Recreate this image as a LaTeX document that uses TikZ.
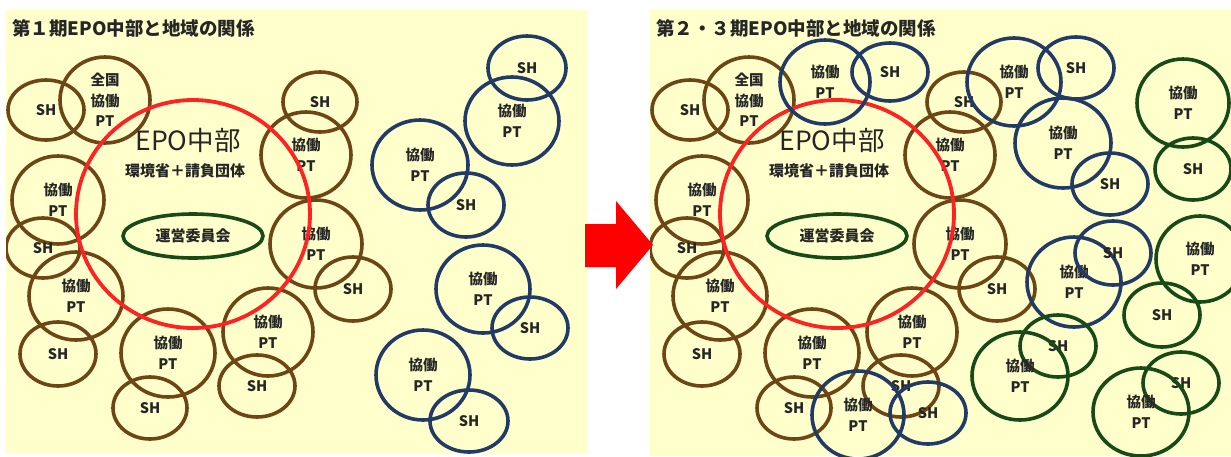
\documentclass[tikz,border=0pt]{standalone}
\usepackage{fontspec}
\setmainfont{Noto Sans CJK JP}
\usetikzlibrary{shapes.geometric}
\definecolor{bg}{HTML}{FFFFCC}
\definecolor{brn}{HTML}{6E4514}
\definecolor{nvy}{HTML}{223A66}
\definecolor{grn}{HTML}{174A17}
\definecolor{rd}{HTML}{FF2222}
\definecolor{arr}{HTML}{FF0000}
\definecolor{txt}{HTML}{262626}
\tikzset{
 ring/.style={ellipse, draw, line width=3.6pt, inner sep=0pt, align=center, text=txt,
   font=\fontsize{14.5}{20.5}\selectfont\bfseries},
 bring/.style={ring, draw=brn},
 nring/.style={ring, draw=nvy},
 gring/.style={ring, draw=grn},
 shs/.style={minimum width=76pt, minimum height=62pt},
 pts/.style={minimum width=94pt, minimum height=88pt},
 panel/.style={fill=bg, draw=none},
 ttl/.style={anchor=west, font=\fontsize{18.5}{20}\selectfont\bfseries, text=txt, inner sep=0pt},
 bigring/.style={ellipse, draw=rd, line width=3.8pt, inner sep=0pt, minimum width=234pt, minimum height=228pt},
 comm/.style={ellipse, draw=grn, line width=3.6pt, inner sep=0pt, minimum width=140pt, minimum height=44pt,
   text=txt, font=\fontsize{15}{16}\selectfont\bfseries},
 epotxt/.style={text=txt, inner sep=0pt, font=\fontsize{26.5}{28}\selectfont},
 subtxt/.style={text=txt, inner sep=0pt, font=\fontsize{15}{16}\selectfont\bfseries},
}
\newcommand\corepanel{%
 \node[bring,shs,minimum width=76pt,minimum height=60pt] (b1) at (46,110) {SH};
 \node[bring,minimum width=90pt,minimum height=86pt] (b2) at (105,100) {全国\\協働\\PT};
 \node[bring,pts,minimum width=92pt] (b3) at (58,200) {協働\\PT};
 \node[bring,shs,minimum width=74pt,minimum height=60pt] (b4) at (43,248) {SH};
 \node[bring,pts] (b5) at (76,296) {協働\\PT};
 \node[bring,shs,minimum height=64pt] (b6) at (58,354) {SH};
 \node[bring,pts] (b7) at (168,353) {協働\\PT};
 \node[bring,shs,minimum width=74pt] (b8) at (150,408) {SH};
 \node[bring,pts,minimum width=90pt] (b9) at (268,332) {協働\\PT};
 \node[bring,shs] (b10) at (257,386) {SH};
 \node[bring,shs,minimum width=74pt,minimum height=60pt] (b11) at (320,102) {SH};
 \node[bring,pts,minimum width=90pt,minimum height=86pt] (b12) at (306,155) {協働\\PT};
 \node[bring,pts,minimum width=92pt] (b13) at (316,244) {協働\\PT};
 \node[bring,shs,minimum height=64pt] (b14) at (353,289) {SH};
 \node[bigring] (epo) at (193,214) {};
 \node[epotxt] (epot) at (188,140) {EPO中部};
 \node[subtxt] (sub) at (185,171) {環境省＋請負団体};
 \node[comm] (com) at (193,236) {運営委員会};
}
\begin{document}
\begin{tikzpicture}[x=1pt,y=-1pt]
\useasboundingbox (0,0) rectangle (1231,456);
\fill[white] (0,0) rectangle (1231,456);
% panels
\fill[panel] (6,10) rectangle (587,453);
\fill[panel] (650,10) rectangle (1231,456);
% left panel
\begin{scope}
 \clip (6,10) rectangle (587,453);
 \node[ttl] (t1) at (12,28) {第１期EPO中部と地域の関係};
 \begin{scope}[name prefix=L-]
  \corepanel
 \end{scope}
 \node[nring,shs,minimum width=78pt,minimum height=64pt] (u1) at (527,68) {SH};
 \node[nring,pts] (u2) at (512,121) {協働\\PT};
 \node[nring,pts,minimum width=96pt,minimum height=90pt] (u3) at (420,165) {協働\\PT};
 \node[nring,shs,minimum height=64pt] (u4) at (466,205) {SH};
 \node[nring,pts] (u5) at (483,289) {協働\\PT};
 \node[nring,shs] (u6) at (530,328) {SH};
 \node[nring,pts,minimum height=90pt] (u7) at (423,375) {協働\\PT};
 \node[nring,shs,minimum width=78pt] (u8) at (469,421) {SH};
\end{scope}
% right panel
\begin{scope}
 \clip (650,10) rectangle (1231,456);
 \node[ttl] (t2) at (656,28) {第２・３期EPO中部と地域の関係};
 \begin{scope}[xshift=644pt, name prefix=R-]
  \corepanel
 \end{scope}
 % blue
 \node[nring,minimum width=90pt,minimum height=84pt] (v1) at (825,82) {協働\\PT};
 \node[nring,shs,minimum height=58pt] (v2) at (890,72) {SH};
 \node[nring,pts] (v3) at (1014,82) {協働\\PT};
 \node[nring,shs] (v4) at (1076,68) {SH};
 \node[nring,pts,minimum width=96pt,minimum height=90pt] (v5) at (1063,143) {協働\\PT};
 \node[nring,shs] (v6) at (1110,184) {SH};
 \node[nring,pts,minimum height=90pt] (v7) at (1074,282) {協働\\PT};
 \node[nring,shs,minimum height=64pt] (v8) at (1113,253) {SH};
 \node[nring,pts,minimum width=92pt] (v9) at (858,415) {協働\\PT};
 \node[nring,shs] (v10) at (928,413) {SH};
 % green
 \node[gring,pts,minimum width=92pt] (g1) at (1183,103) {協働\\PT};
 \node[gring,shs] (g2) at (1193,169) {SH};
 \node[gring,pts,minimum width=88pt,minimum height=86pt] (g3) at (1200,259) {協働\\PT};
 \node[gring,shs,minimum height=64pt] (g4) at (1162,315) {SH};
 \node[gring,shs] (g5) at (1058,346) {SH};
 \node[gring,pts,minimum width=96pt] (g6) at (1020,376) {協働\\PT};
 \node[gring,shs] (g7) at (1181,383) {SH};
 \node[gring,pts,minimum width=96pt] (g8) at (1141,412) {協働\\PT};
\end{scope}
% arrow
\fill[arr] (585,224) -- (616,224) -- (616,201) -- (653,245) -- (616,289) -- (616,267) -- (585,267) -- cycle;
\end{tikzpicture}
\end{document}
